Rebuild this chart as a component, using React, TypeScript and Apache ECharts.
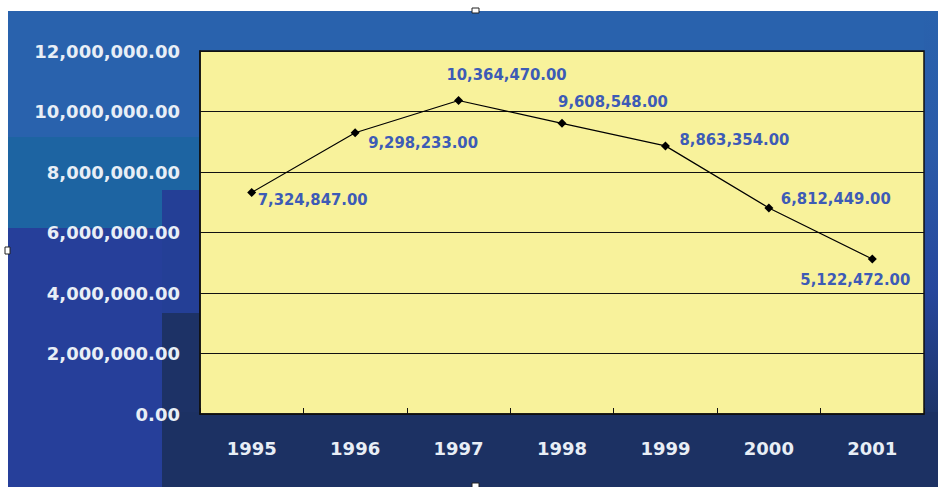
import React, { useEffect, useRef } from "react";
import * as echarts from "echarts";

const years = ["1995", "1996", "1997", "1998", "1999", "2000", "2001"];
const values = [7324847, 9298233, 10364470, 9608548, 8863354, 6812449, 5122472];
const yTicks = { min: 0, max: 12000000, interval: 2000000 };

// label placement style per point: [dx, dy, align]
const labelPlacement: [number, number, string][] = [
  [6, 7, "left"],
  [13, 10, "left"],
  [48, -26, "center"],
  [51, -22, "center"],
  [14, -6, "left"],
  [12, -9, "left"],
  [-17, 20, "center"],
];

const fmt = (v: number) =>
  v.toLocaleString("en-US", { minimumFractionDigits: 2, maximumFractionDigits: 2 });

export default function App() {
  const ref = useRef<HTMLDivElement>(null);
  useEffect(() => {
    if (!ref.current) return;
    const chart = echarts.init(ref.current, null, { renderer: "svg" });
    const labelFont = "'DejaVu Sans Condensed', 'DejaVu Sans', sans-serif";
    chart.setOption({
      animation: false,
      backgroundColor: "#ffffff",
      graphic: {
        elements: [
          { type: "rect", z: -100, shape: { x: 8, y: 11, width: 930, height: 476 }, style: { fill: "#2962ad" } },
          { type: "rect", z: -99, shape: { x: 8, y: 137, width: 192, height: 91 }, style: { fill: "#1d64a2" } },
          { type: "rect", z: -99, shape: { x: 8, y: 228, width: 192, height: 259 }, style: { fill: "#263f9a" } },
          { type: "rect", z: -98, shape: { x: 162, y: 190, width: 38, height: 123 }, style: { fill: "#243f96" } },
          { type: "rect", z: -98, shape: { x: 162, y: 313, width: 38, height: 174 }, style: { fill: "#1d3266" } },
          { type: "rect", z: -97, shape: { x: 162, y: 412, width: 776, height: 75 }, style: { fill: "#1c3163" } },
          {
            type: "rect",
            z: -97,
            shape: { x: 924, y: 11, width: 14, height: 401 },
            style: {
              fill: new echarts.graphic.LinearGradient(0, 0, 0, 1, [
                { offset: 0, color: "#2962ad" },
                { offset: 0.35, color: "#2a5aa8" },
                { offset: 0.7, color: "#26469c" },
                { offset: 1, color: "#1d3469" },
              ]),
            },
          },
          { type: "rect", z: 10, shape: { x: 472, y: 8, width: 7, height: 5 }, style: { fill: "#ffffff", stroke: "#222", lineWidth: 1 } },
          { type: "rect", z: 10, shape: { x: 5, y: 247, width: 5, height: 7 }, style: { fill: "#ffffff", stroke: "#222", lineWidth: 1 } },
          { type: "rect", z: 10, shape: { x: 472, y: 483, width: 7, height: 5 }, style: { fill: "#ffffff", stroke: "#222", lineWidth: 1 } },
        ],
      },
      grid: {
        left: 200,
        top: 51,
        right: 14,
        bottom: 73,
        show: true,
        backgroundColor: "#f8f29b",
        borderColor: "#111111",
        borderWidth: 1.5,
      },
      xAxis: {
        type: "category",
        data: years,
        boundaryGap: true,
        axisLine: { show: true, lineStyle: { color: "#111111", width: 1.5 } },
        axisTick: { show: true, inside: true, length: 6, alignWithLabel: false, lineStyle: { color: "#111111" } },
        axisLabel: {
          color: "#e8eef6",
          fontFamily: "'DejaVu Sans', sans-serif",
          fontWeight: "bold",
          fontSize: 18,
          margin: 25,
        },
        splitLine: { show: false },
      },
      yAxis: {
        type: "value",
        min: yTicks.min,
        max: yTicks.max,
        interval: yTicks.interval,
        axisLine: { show: true, lineStyle: { color: "#111111", width: 1.5 } },
        axisTick: { show: false },
        axisLabel: {
          color: "#e8eef6",
          fontFamily: "'DejaVu Sans', sans-serif",
          fontWeight: "bold",
          fontSize: 18,
          margin: 20,
          formatter: (v: number) => fmt(v),
        },
        splitLine: { show: true, lineStyle: { color: "#111111", width: 1.2 } },
      },
      series: [
        {
          type: "line",
          data: values.map((v, i) => ({
            value: v,
            label: {
              show: true,
              position: "inside",
              align: labelPlacement[i][2],
              verticalAlign: "middle",
              offset: [labelPlacement[i][0], labelPlacement[i][1]],
            },
          })),
          symbol: "diamond",
          symbolSize: 9,
          itemStyle: { color: "#000000" },
          lineStyle: { color: "#000000", width: 1.2 },
          label: {
            show: true,
            color: "#3d5bb6",
            fontFamily: labelFont,
            fontWeight: "bold",
            fontSize: 16.5,
            formatter: (p: any) => fmt(p.value),
          },
          z: 5,
        },
      ],
    });
    return () => chart.dispose();
  }, []);
  return (
    <div
      ref={ref}
      style={{ position: "fixed", left: 0, top: 0, width: 938, height: 487 }}
    />
  );
}
